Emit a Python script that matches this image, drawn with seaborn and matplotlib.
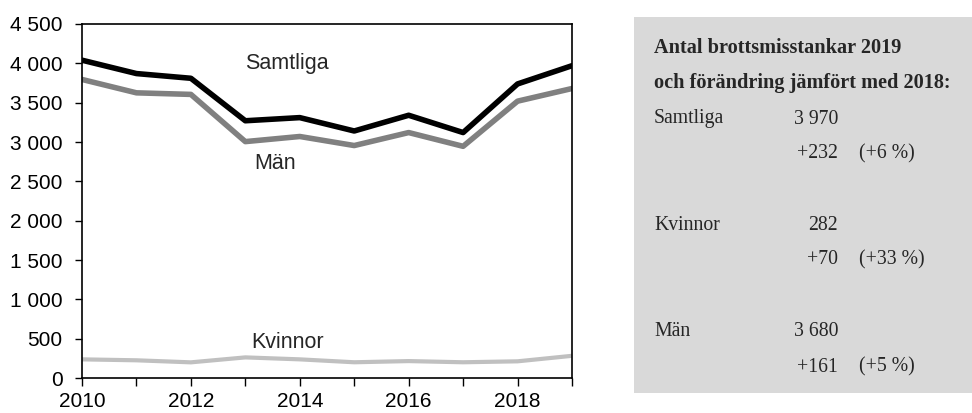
import numpy as np
import pandas as pd
import matplotlib.pyplot as plt
import matplotlib.ticker as mticker
from matplotlib.patches import Rectangle
import seaborn as sns

years = [2010, 2011, 2012, 2013, 2014, 2015, 2016, 2017, 2018, 2019]
samtliga = [4040, 3870, 3810, 3270, 3310, 3140, 3340, 3120, 3738, 3970]
man = [3795, 3625, 3605, 3005, 3070, 2955, 3120, 2945, 3519, 3680]
kvinnor = [237, 225, 199, 262, 237, 200, 215, 200, 212, 282]

series_names = ['Samtliga', 'Män', 'Kvinnor']
series_colors = {'Samtliga': '#000000', 'Män': '#808080', 'Kvinnor': '#c0c0c0'}
series_widths = {'Samtliga': 4, 'Män': 4, 'Kvinnor': 3}

panel_title = ['Antal brottsmisstankar 2019', 'och förändring jämfört med 2018:']
panel_names = ['Samtliga', 'Kvinnor', 'Män']
panel_values = ['3 970', '282', '3 680']
panel_change = ['+232', '+70', '+161']
panel_pct = ['(+6 %)', '(+33 %)', '(+5 %)']

df = pd.DataFrame({'year': years * 3,
                   'value': samtliga + man + kvinnor,
                   'serie': ['Samtliga'] * 10 + ['Män'] * 10 + ['Kvinnor'] * 10})

sns.set_style('white')
plt.rcParams['font.family'] = ['Liberation Sans', 'DejaVu Sans']

fig = plt.figure(figsize=(9.72, 4.13), dpi=100)
ax = fig.add_axes([82 / 972, 1 - 378 / 413, 490 / 972, 354 / 413])

for name in series_names:
    sub = df[df['serie'] == name]
    sns.lineplot(data=sub, x='year', y='value', color=series_colors[name],
                 linewidth=series_widths[name], ax=ax)

ax.set_xlim(2010, 2019)
ax.set_ylim(0, 4500)
ax.set_xticks(years)
ax.set_xticklabels([str(y) if y % 2 == 0 else '' for y in years])
ax.set_yticks(np.arange(0, 4501, 500))
ax.yaxis.set_major_formatter(mticker.FuncFormatter(lambda v, p: f'{v:,.0f}'.replace(',', ' ')))
ax.tick_params(axis='both', direction='out', width=1, colors='black',
               left=True, bottom=True)
ax.tick_params(axis='x', length=6, pad=4, labelsize=15)
ax.tick_params(axis='y', length=5, pad=9, labelsize=15)
for s in ax.spines.values():
    s.set_color('black')
    s.set_linewidth(1.2)
ax.set_xlabel('')
ax.set_ylabel('')

ax.text(2013.77, 4000, 'Samtliga', fontsize=15.5, ha='center', va='center')
ax.text(2013.55, 2730, 'Män', fontsize=15.5, ha='center', va='center')
ax.text(2013.77, 445, 'Kvinnor', fontsize=15.5, ha='center', va='center')

# grey info panel
W, H = 972, 413
fig.patches.append(Rectangle((634 / W, 1 - 393 / H), (972 - 634) / W, (393 - 17) / H,
                             transform=fig.transFigure, facecolor='#d9d9d9',
                             edgecolor='none', zorder=0))
serif = ['Liberation Serif', 'DejaVu Serif']
fig.text(654 / W, 1 - 48 / H, panel_title[0], fontsize=14.6, fontweight='bold',
         family=serif, va='center')
fig.text(654 / W, 1 - 83 / H, panel_title[1], fontsize=14.6, fontweight='bold',
         family=serif, va='center')
row_y = [119, 225, 332]
for i in range(3):
    y1 = row_y[i]
    y2 = y1 + 35
    fig.text(654 / W, 1 - y1 / H, panel_names[i], fontsize=14.2, family=serif, va='center')
    fig.text(838 / W, 1 - y1 / H, panel_values[i], fontsize=14.2, family=serif,
             va='center', ha='right')
    fig.text(838 / W, 1 - y2 / H, panel_change[i], fontsize=14.2, family=serif,
             va='center', ha='right')
    fig.text(859 / W, 1 - y2 / H, panel_pct[i], fontsize=14.2, family=serif, va='center')

fig.savefig('out.png', dpi=100)
